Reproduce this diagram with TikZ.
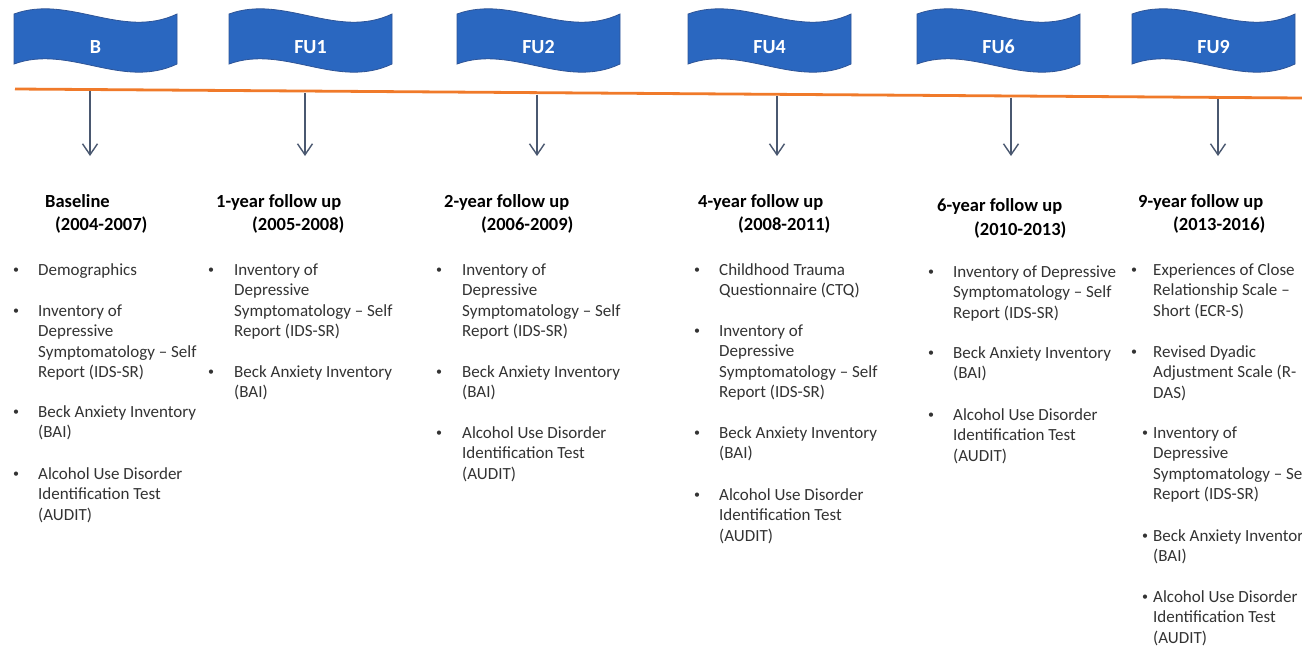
\documentclass[tikz,border=0pt]{standalone}
\usepackage{fontspec}
\setmainfont{Carlito}
\usetikzlibrary{arrows.meta}
\definecolor{bannerfill}{HTML}{2A67C0}
\definecolor{bannerdraw}{HTML}{2F5597}
\definecolor{tlorange}{HTML}{F07A2A}
\definecolor{arrowgray}{HTML}{4A5870}
\definecolor{itemgray}{HTML}{333333}
\tikzset{
  itm/.style={anchor=base west, inner sep=0pt, font=\fontsize{17}{20.5}\selectfont, text=itemgray},
  bul/.style={anchor=base, inner sep=0pt, font=\fontsize{12}{14}\selectfont, text=itemgray},
  hd/.style={anchor=base west, inner sep=0pt, font=\fontsize{18.5}{22}\selectfont\bfseries, text=black},
  banlab/.style={anchor=base, inner sep=0pt, font=\fontsize{20}{24}\selectfont\bfseries, text=white},
  banshape/.style={fill=bannerfill, draw=bannerdraw, line width=0.8pt},
  tline/.style={draw=tlorange, line width=2.8pt},
  darrow/.style={draw=arrowgray, line width=1.4pt, -{Straight Barb[length=11pt,width=15pt,line width=1.4pt]}},
}
\newcommand\banner[3]{%
  \path[banshape] (#1,14) .. controls ({#1+55},-6) and ({#1+108},40) .. ({#1+163},14)
     -- ({#1+163},64) .. controls ({#1+108},90) and ({#1+55},44) .. (#1,64) -- cycle;
  \node[banlab] (#2) at ({#1+81.5},53) {#3};}
\newcommand\bitem[6]{% name, bullet x, text x, first baseline, lines
  \node[bul] (#1-b) at (#2,{#4-1.5}) {•};
  \foreach \t [count=\k from 0] in {#5}
    \node[itm] (#1-\k) at (#3,{#4+\k*20.5}) {\t};}
\begin{document}
\begin{tikzpicture}[x=1pt,y=-1pt]
\useasboundingbox (0,0) rectangle (1302,648);
\clip (0,0) rectangle (1302,648);
\fill[white] (0,0) rectangle (1302,648);

% banners
\banner{14}{bB}{B}
\banner{229}{bF1}{FU1}
\banner{457}{bF2}{FU2}
\banner{688}{bF4}{FU4}
\banner{917}{bF6}{FU6}
\banner{1132}{bF9}{FU9}

% timeline
\coordinate (tl0) at (15,89);
\coordinate (tl1) at (1302,98);
\draw[tline] (tl0) -- (tl1);

% arrows
\foreach \n/\x/\y in {B/90/91,F1/305/93,F2/537/94.5,F4/777/96,F6/1011/97.5,F9/1218/99}{
  \coordinate (a\n s) at (\x,\y);
  \coordinate (a\n e) at (\x,156);
  \draw[darrow] (a\n s) -- (a\n e);
}

% headings
\node[hd] (hB1) at (45,207) {Baseline};
\node[hd] (hB2) at (55,230) {(2004-2007)};
\node[hd] (h11) at (216,207) {1-year follow up};
\node[hd] (h12) at (252,230) {(2005-2008)};
\node[hd] (h21) at (444,207) {2-year follow up};
\node[hd] (h22) at (481,230) {(2006-2009)};
\node[hd] (h41) at (698,207) {4-year follow up};
\node[hd] (h42) at (738,230) {(2008-2011)};
\node[hd] (h61) at (937,211) {6-year follow up};
\node[hd] (h62) at (974,235) {(2010-2013)};
\node[hd] (h91) at (1138,207) {9-year follow up};
\node[hd] (h92) at (1173,230) {(2013-2016)};

% Baseline column
\bitem{cB1}{16}{38}{275}{Demographics}{}
\bitem{cB2}{16}{38}{316}{Inventory of,Depressive,Symptomatology – Self,Report (IDS-SR)}{}
\bitem{cB3}{16}{38}{417}{Beck Anxiety Inventory,(BAI)}{}
\bitem{cB4}{16}{38}{479}{Alcohol Use Disorder,Identification Test,(AUDIT)}{}

% FU1 column
\bitem{c11}{211}{234}{275}{Inventory of,Depressive,Symptomatology – Self,Report (IDS-SR)}{}
\bitem{c12}{211}{234}{377}{Beck Anxiety Inventory,(BAI)}{}

% FU2 column
\bitem{c21}{439}{462}{275}{Inventory of,Depressive,Symptomatology – Self,Report (IDS-SR)}{}
\bitem{c22}{439}{462}{377}{Beck Anxiety Inventory,(BAI)}{}
\bitem{c23}{439}{462}{438}{Alcohol Use Disorder,Identification Test,(AUDIT)}{}

% FU4 column
\bitem{c41}{697}{719}{275}{Childhood Trauma,Questionnaire (CTQ)}{}
\bitem{c42}{697}{719}{336}{Inventory of,Depressive,Symptomatology – Self,Report (IDS-SR)}{}
\bitem{c43}{697}{719}{438}{Beck Anxiety Inventory,(BAI)}{}
\bitem{c44}{697}{719}{500}{Alcohol Use Disorder,Identification Test,(AUDIT)}{}

% FU6 column
\bitem{c61}{931}{953}{277}{Inventory of Depressive,Symptomatology – Self,Report (IDS-SR)}{}
\bitem{c62}{931}{953}{358}{Beck Anxiety Inventory,(BAI)}{}
\bitem{c63}{931}{953}{420}{Alcohol Use Disorder,Identification Test,(AUDIT)}{}

% FU9 column
\bitem{c91}{1134}{1153}{275}{Experiences of Close,Relationship Scale –,Short (ECR-S)}{}
\bitem{c92}{1134}{1153}{357}{Revised Dyadic,Adjustment Scale (R-,DAS)}{}
\bitem{c93}{1145}{1153}{438}{Inventory of,Depressive,Symptomatology – Self,Report (IDS-SR)}{}
\bitem{c94}{1145}{1153}{541}{Beck Anxiety Inventory,(BAI)}{}
\bitem{c95}{1145}{1153}{602}{Alcohol Use Disorder,Identification Test,(AUDIT)}{}
\end{tikzpicture}
\end{document}
